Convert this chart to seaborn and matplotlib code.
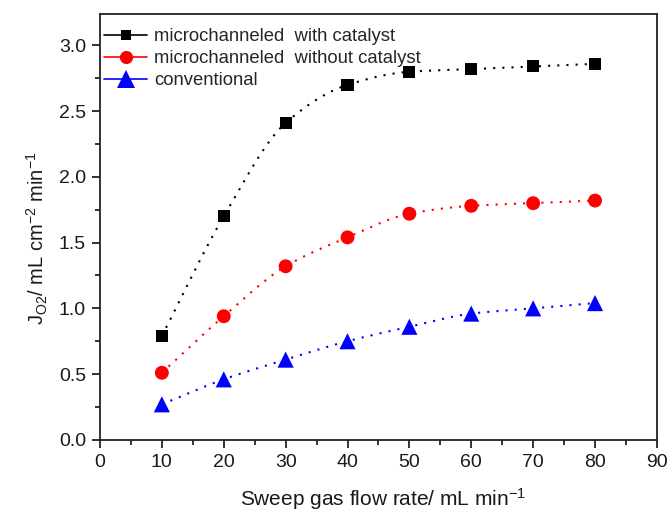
import numpy as np
import pandas as pd
import matplotlib
matplotlib.use("Agg")
import matplotlib.pyplot as plt
from matplotlib.lines import Line2D
from matplotlib.ticker import MultipleLocator
import seaborn as sns

# Sweep gas flow rate (mL/min) and oxygen permeation flux (mL cm^-2 min^-1)
flow_rate = [10, 20, 30, 40, 50, 60, 70, 80]
with_catalyst = [0.79, 1.70, 2.41, 2.70, 2.80, 2.82, 2.84, 2.86]
without_catalyst = [0.51, 0.94, 1.32, 1.54, 1.72, 1.78, 1.80, 1.82]
conventional = [0.27, 0.46, 0.61, 0.75, 0.86, 0.96, 1.00, 1.04]

series_names = ["microchanneled  with catalyst",
                "microchanneled  without catalyst",
                "conventional"]
series_values = [with_catalyst, without_catalyst, conventional]
colors = ["#000000", "#ff0000", "#0000ff"]
markers = ["s", "o", "^"]
marker_area = [75, 100, 135]
legend_marker_size = [6.5, 9.5, 13]

sns.set_theme(style="white")
plt.rcParams["font.family"] = ["Liberation Sans", "DejaVu Sans"]
plt.rcParams["mathtext.fontset"] = "custom"
plt.rcParams["mathtext.rm"] = "Liberation Sans"
plt.rcParams["mathtext.it"] = "Liberation Sans"
plt.rcParams["axes.unicode_minus"] = False


def monotone_cubic(x, y, xs):
    """Fritsch-Carlson monotone cubic through the measured points."""
    x = np.asarray(x, float)
    y = np.asarray(y, float)
    h = np.diff(x)
    d = np.diff(y) / h
    m = np.zeros_like(y)
    m[0], m[-1] = d[0], d[-1]
    for i in range(1, len(y) - 1):
        if d[i - 1] * d[i] <= 0:
            m[i] = 0.0
        else:
            w1 = 2 * h[i] + h[i - 1]
            w2 = h[i] + 2 * h[i - 1]
            m[i] = (w1 + w2) / (w1 / d[i - 1] + w2 / d[i])
    idx = np.clip(np.searchsorted(x, xs) - 1, 0, len(x) - 2)
    t = (xs - x[idx]) / h[idx]
    h00 = 2 * t**3 - 3 * t**2 + 1
    h10 = t**3 - 2 * t**2 + t
    h01 = -2 * t**3 + 3 * t**2
    h11 = t**3 - t**2
    return (h00 * y[idx] + h10 * h[idx] * m[idx]
            + h01 * y[idx + 1] + h11 * h[idx] * m[idx + 1])


df = pd.concat(
    [pd.DataFrame({"flow": flow_rate, "flux": vals, "series": name})
     for name, vals in zip(series_names, series_values)],
    ignore_index=True,
)

fig, ax = plt.subplots(figsize=(6.71, 5.15), dpi=100)
fig.subplots_adjust(left=0.149, right=0.979, top=0.973, bottom=0.146)

# Smooth dotted trend curves
xs = np.linspace(flow_rate[0], flow_rate[-1], 300)
for vals, c in zip(series_values, colors):
    ax.plot(xs, monotone_cubic(flow_rate, vals, xs), linestyle=(0, (1, 3.4)),
            color=c, linewidth=1.5, zorder=2)

sns.scatterplot(data=df, x="flow", y="flux", hue="series", style="series",
                size="series",
                palette=dict(zip(series_names, colors)),
                markers=dict(zip(series_names, markers)),
                sizes=dict(zip(series_names, marker_area)),
                edgecolor="none", linewidth=0, legend=False,
                ax=ax, zorder=3)

ax.set_xlim(0, 90)
ax.set_ylim(0, 3.24)
ax.xaxis.set_major_locator(MultipleLocator(10))
ax.xaxis.set_minor_locator(MultipleLocator(5))
ax.yaxis.set_minor_locator(MultipleLocator(0.25))
yt = np.arange(0, 3.01, 0.5)
ax.set_yticks(yt)
ax.set_yticklabels([f"{v:.1f}" for v in yt])

ax.tick_params(axis="both", which="major", direction="out", length=6,
               width=1.3, color="#222222", labelcolor="#1a1a1a",
               labelsize=14, pad=4,
               bottom=True, left=True, top=False, right=False)
ax.tick_params(axis="both", which="minor", direction="out", length=3.5,
               width=1.3, color="#222222", bottom=True, left=True,
               top=False, right=False)
for sp in ax.spines.values():
    sp.set_color("#222222")
    sp.set_linewidth(1.3)

ax.set_xlabel(r"Sweep gas flow rate/ mL min$^{\mathregular{-1}}$",
              fontsize=15, labelpad=12, color="#1a1a1a")
ax.xaxis.set_label_coords(0.508, -0.108)
ax.set_ylabel(r"J$_{\mathregular{O2}}$/ mL cm$^{\mathregular{-2}}$ min$^{\mathregular{-1}}$",
              fontsize=14.5, color="#1a1a1a")
ax.yaxis.set_label_coords(-0.09, 0.474)

handles = [Line2D([0], [0], color=c, marker=m, markersize=ms, linewidth=1.2,
                  markeredgewidth=0)
           for c, m, ms in zip(colors, markers, legend_marker_size)]
ax.legend(handles, series_names, loc="upper left", frameon=False,
          fontsize=13.3, handlelength=2.3, handletextpad=0.4,
          labelspacing=0.27, borderaxespad=0.0, borderpad=0.0,
          bbox_to_anchor=(0.008, 0.966))

fig.savefig("out.png", dpi=100)
